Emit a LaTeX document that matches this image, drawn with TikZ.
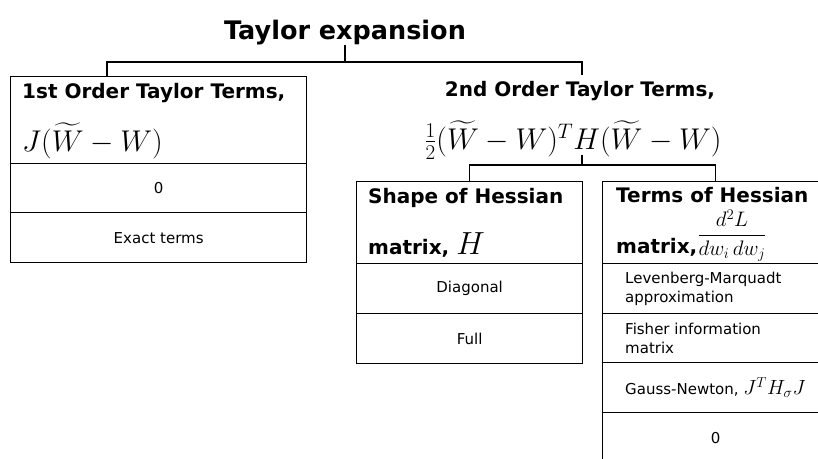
\RequirePackage{fix-cm}
\documentclass[tikz,border=0pt]{standalone}
\usepackage{amsmath}
\usepackage{fontspec}
\setmainfont{DejaVu Sans}
\usetikzlibrary{calc}
\tikzset{
  cell/.style={draw, line width=1.3pt, rectangle, inner sep=0pt, anchor=north west, minimum width=#1},
  head/.style={font=\fontsize{20}{24}\selectfont\bfseries, inner sep=0pt, anchor=base west},
  small/.style={font=\fontsize{15}{19}\selectfont, inner sep=0pt},
  link/.style={line width=1.3pt},
  mth/.style={inner sep=0pt, anchor=base west},
}
\newcommand{\mathbigsize}{\fontsize{30}{34}\selectfont}
\begin{document}
\begin{tikzpicture}[x=1pt,y=-1pt]
\useasboundingbox (0,0) rectangle (818,458);
\clip (0,0) rectangle (818,458);
% title
\node[inner sep=0pt, anchor=base, font=\fontsize{25.5}{30}\selectfont\bfseries] (root) at (345,39) {Taylor expansion};
\coordinate (j0) at (345,62);
\coordinate (j0L) at (107,62);
% left box
\node[cell=296pt, minimum height=87pt] (l1) at (10,76) {};
\node[cell=296pt, minimum height=49pt, small] (l2) at (10,163) {0};
\node[cell=296pt, minimum height=50pt, small] (l3) at (10,212) {Exact terms};
\node[head] (l1a) at (22,98) {1st Order Taylor Terms,};
\node[mth] (l1b) at (22,151) {\mathbigsize$J(\widetilde{W}-W)$};
% second order
\node[inner sep=0pt, anchor=base, font=\fontsize{20}{24}\selectfont\bfseries] (o2) at (580,96) {2nd Order Taylor Terms,};
\node[inner sep=0pt, anchor=base] (o2m) at (573,149) {\mathbigsize$\frac{1}{2}(\widetilde{W}-W)^TH(\widetilde{W}-W)$};
\coordinate (j1) at (582,165);
% shape box
\node[cell=226pt, minimum height=82pt] (sh1) at (356,181) {};
\node[cell=226pt, minimum height=50pt, small] (sh2) at (356,263) {Diagonal};
\node[cell=226pt, minimum height=50pt, small] (sh3) at (356,313) {Full};
\node[head] (sh1a) at (368,203) {Shape of Hessian};
\node[head] (sh1b) at (368,254) {matrix, {\fontsize{32}{34}\selectfont$H$}};
% terms box
\node[cell=226pt, minimum height=82pt] (te1) at (602,181) {};
\node[cell=226pt, minimum height=50pt] (te2) at (602,263) {};
\node[cell=226pt, minimum height=49pt] (te3) at (602,313) {};
\node[cell=226pt, minimum height=50pt] (te4) at (602,362) {};
\node[cell=226pt, minimum height=50pt, small] (te5) at (602,412) {0};
\node[head] (te1a) at (616,202) {Terms of Hessian};
\node[head] (te1b) at (616,253) {matrix,\raisebox{12pt}{\fontsize{21}{24}\selectfont$\dfrac{d^2L}{dw_i\,dw_j}$}};
\node[small, align=left, anchor=west] (te2t) at ([xshift=23pt]te2.west) {Levenberg-Marquadt\\approximation};
\node[small, align=left, anchor=west] (te3t) at ([xshift=23pt]te3.west) {Fisher information\\matrix};
\node[small, anchor=west] (te4t) at ([xshift=23pt]te4.west) {Gauss-Newton, {\fontsize{20.5}{24}\selectfont$J^TH_\sigma J$}};
% connectors
\draw[link] (root.south) -- (j0);
\draw[link] (j0) -| (l1.north -| j0L);
\draw[link] (j0) -| ([yshift=6pt]o2.north -| j1);
\draw[link] ([yshift=5pt]o2m.south -| j1) -- (j1);
\draw[link] (sh1.north) |- (j1) -| (te1.north);
\end{tikzpicture}
\end{document}
